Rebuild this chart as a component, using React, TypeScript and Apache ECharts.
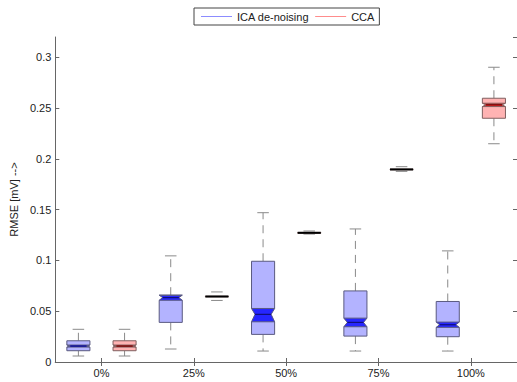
import React, { useEffect, useRef } from "react";
import * as echarts from "echarts";

const categories = ["0%", "25%", "50%", "75%", "100%"];

// ICA de-noising box statistics
const icaLowerWhisker = [0.0059, 0.0128, 0.0108, 0.0108, 0.0108];
const icaQ1 = [0.0111, 0.039, 0.0272, 0.0255, 0.0249];
const icaNotchLow = [0.0147, 0.0608, 0.0396, 0.0347, 0.0341];
const icaMedian = [0.0157, 0.0634, 0.0469, 0.039, 0.0367];
const icaNotchHigh = [0.0167, 0.0658, 0.0527, 0.0432, 0.0393];
const icaQ3 = [0.0209, 0.0658, 0.0992, 0.07, 0.0596];
const icaUpperWhisker = [0.0322, 0.1045, 0.147, 0.131, 0.1094];

// CCA box statistics
const ccaLowerWhisker = [0.0059, 0.0606, 0.126, 0.1877, 0.2149];
const ccaQ1 = [0.0111, 0.0643, 0.1268, 0.1893, 0.24];
const ccaNotchLow = [0.0147, 0.0644, 0.127, 0.1895, 0.2515];
const ccaMedian = [0.0157, 0.0645, 0.1272, 0.1896, 0.2532];
const ccaNotchHigh = [0.0167, 0.0646, 0.1274, 0.1897, 0.2548];
const ccaQ3 = [0.0209, 0.0647, 0.1276, 0.1899, 0.2597];
const ccaUpperWhisker = [0.0322, 0.069, 0.129, 0.1923, 0.2902];

const FONT = "Liberation Sans, Arial, Helvetica, sans-serif";

function buildData(lw: number[], q1: number[], nl: number[], md: number[], nh: number[], q3: number[], uw: number[]) {
  return categories.map((_, i) => [i, lw[i], q1[i], nl[i], md[i], nh[i], q3[i], uw[i]]);
}

function makeRenderItem(offset: number, light: string, dark: string, edge: string, medColor: string) {
  return (params: any, api: any) => {
    const ci = api.value(0);
    const bw = api.size([1, 0])[0];
    const cx = api.coord([ci, 0])[0] + offset * bw;
    const w = 0.25 * bw;
    const L = cx - w / 2;
    const R = cx + w / 2;
    const ind = 0.15 * w;
    const y = (k: number) => api.coord([ci, api.value(k)])[1];
    const yLw = y(1), yQ1 = y(2), yNl = y(3), yMd = y(4), yNh = y(5), yQ3 = y(6), yUw = y(7);
    const yTop = Math.min(yQ3, yNh);
    const degenerate = yQ1 - yQ3 < 3;
    const whiskerStyle = { stroke: "#8a8a8a", lineWidth: 1, lineDash: [8, 6] };
    const capStyle = { stroke: "#8a8a8a", lineWidth: 1 };
    const children: any[] = [];
    if (!degenerate) {
      children.push({ type: "line", shape: { x1: cx, y1: yTop, x2: cx, y2: yUw }, style: whiskerStyle });
      children.push({ type: "line", shape: { x1: cx, y1: yQ1, x2: cx, y2: yLw }, style: whiskerStyle });
    }
    children.push({ type: "line", shape: { x1: cx - w / 4, y1: yUw, x2: cx + w / 4, y2: yUw }, style: capStyle });
    children.push({ type: "line", shape: { x1: cx - w / 4, y1: yLw, x2: cx + w / 4, y2: yLw }, style: capStyle });
    if (degenerate) {
      children.push({ type: "rect", shape: { x: L, y: yQ3, width: w, height: Math.max(yQ1 - yQ3, 0.5) }, style: { fill: light, stroke: edge, lineWidth: 1 } });
      children.push({ type: "line", shape: { x1: L, y1: yMd, x2: R, y2: yMd }, style: { stroke: "#000", lineWidth: 2 } });
    } else {
      const outline = [
        [L, yQ1], [L, yNl], [L + ind, yMd], [L, yNh], [L, yTop],
        [R, yTop], [R, yNh], [R - ind, yMd], [R, yNl], [R, yQ1],
      ];
      children.push({ type: "polygon", shape: { points: outline }, style: { fill: light, stroke: "none" } });
      const bow = [[L, yNl], [L + ind, yMd], [L, yNh], [R, yNh], [R - ind, yMd], [R, yNl]];
      children.push({ type: "polygon", shape: { points: bow }, style: { fill: dark, stroke: "none" } });
      children.push({ type: "line", shape: { x1: L, y1: yNl, x2: R, y2: yNl }, style: { stroke: edge, lineWidth: 1 } });
      children.push({ type: "line", shape: { x1: L, y1: yNh, x2: R, y2: yNh }, style: { stroke: edge, lineWidth: 1 } });
      children.push({ type: "polygon", shape: { points: outline }, style: { fill: "none", stroke: edge, lineWidth: 1 } });
      children.push({ type: "line", shape: { x1: L + ind, y1: yMd, x2: R - ind, y2: yMd }, style: { stroke: medColor, lineWidth: 1.2 } });
    }
    return { type: "group", children };
  };
}

export default function App() {
  const ref = useRef<HTMLDivElement>(null);
  useEffect(() => {
    if (!ref.current) return;
    const chart = echarts.init(ref.current, null, { renderer: "svg" });
    const axisLine = { show: true, lineStyle: { color: "#666", width: 1 } };
    const yFmt = (v: number) => {
      const r = Math.round(v * 100) / 100;
      if (Math.abs(r * 20 - Math.round(r * 20)) > 1e-6 || r > 0.31) return "";
      return String(r);
    };
    chart.setOption({
      animation: false,
      backgroundColor: "#fff",
      textStyle: { fontFamily: FONT },
      legend: {
        left: 194,
        top: 8,
        orient: "horizontal",
        padding: [3, 5, 3, 7],
        itemGap: 6,
        itemWidth: 31,
        itemHeight: 1,
        icon: "rect",
        borderColor: "#444",
        borderWidth: 1,
        backgroundColor: "#fff",
        textStyle: { fontSize: 11, color: "#222", fontFamily: FONT },
        data: [
          { name: "ICA de-noising", itemStyle: { color: "#8c8cff" } },
          { name: "CCA", itemStyle: { color: "#ff8c8c" } },
        ],
      },
      grid: { left: 50, top: 37, width: 468, height: 325 },
      xAxis: [
        {
          type: "category",
          data: categories,
          position: "bottom",
          axisLine,
          axisTick: { show: true, inside: true, length: 4, alignWithLabel: true, lineStyle: { color: "#666" } },
          axisLabel: { fontSize: 11, color: "#222", margin: 5, fontFamily: FONT },
          splitLine: { show: false },
        },
        {
          type: "category",
          data: categories,
          position: "top",
          axisLine,
          axisTick: { show: true, inside: true, length: 4, alignWithLabel: true, lineStyle: { color: "#666" } },
          axisLabel: { show: false },
          splitLine: { show: false },
        },
      ],
      yAxis: [
        {
          type: "value",
          min: 0,
          max: 0.32,
          interval: 0.05,
          position: "left",
          name: "RMSE [mV] -->",
          nameLocation: "middle",
          nameGap: 34,
          nameRotate: 90,
          nameTextStyle: { fontSize: 11, color: "#222", fontFamily: FONT },
          axisLine,
          axisTick: { show: true, inside: true, length: 4, lineStyle: { color: "#666" } },
          axisLabel: { fontSize: 11, color: "#222", margin: 4, formatter: yFmt, showMaxLabel: false, fontFamily: FONT },
          splitLine: { show: false },
        },
        {
          type: "value",
          min: 0,
          max: 0.32,
          interval: 0.05,
          position: "right",
          axisLine,
          axisTick: { show: true, inside: true, length: 4, lineStyle: { color: "#666" } },
          axisLabel: { show: false },
          splitLine: { show: false },
        },
      ],
      series: [
        {
          name: "ICA de-noising",
          type: "custom",
          itemStyle: { color: "#8c8cff" },
          encode: { x: 0, y: [1, 2, 3, 4, 5, 6, 7] },
          data: buildData(icaLowerWhisker, icaQ1, icaNotchLow, icaMedian, icaNotchHigh, icaQ3, icaUpperWhisker),
          renderItem: makeRenderItem(-0.25, "#b3b3ff", "#2626ff", "#5a5a80", "#10107a"),
          clip: false,
        },
        {
          name: "CCA",
          type: "custom",
          itemStyle: { color: "#ff8c8c" },
          encode: { x: 0, y: [1, 2, 3, 4, 5, 6, 7] },
          data: buildData(ccaLowerWhisker, ccaQ1, ccaNotchLow, ccaMedian, ccaNotchHigh, ccaQ3, ccaUpperWhisker),
          renderItem: makeRenderItem(0.25, "#ffb3b3", "#ff2626", "#806060", "#5a0a0a"),
          clip: false,
        },
      ],
    });
    return () => chart.dispose();
  }, []);
  return (
    <div
      ref={ref}
      style={{ position: "fixed", left: 0, top: 0, width: 517, height: 382, background: "#fff" }}
    />
  );
}
